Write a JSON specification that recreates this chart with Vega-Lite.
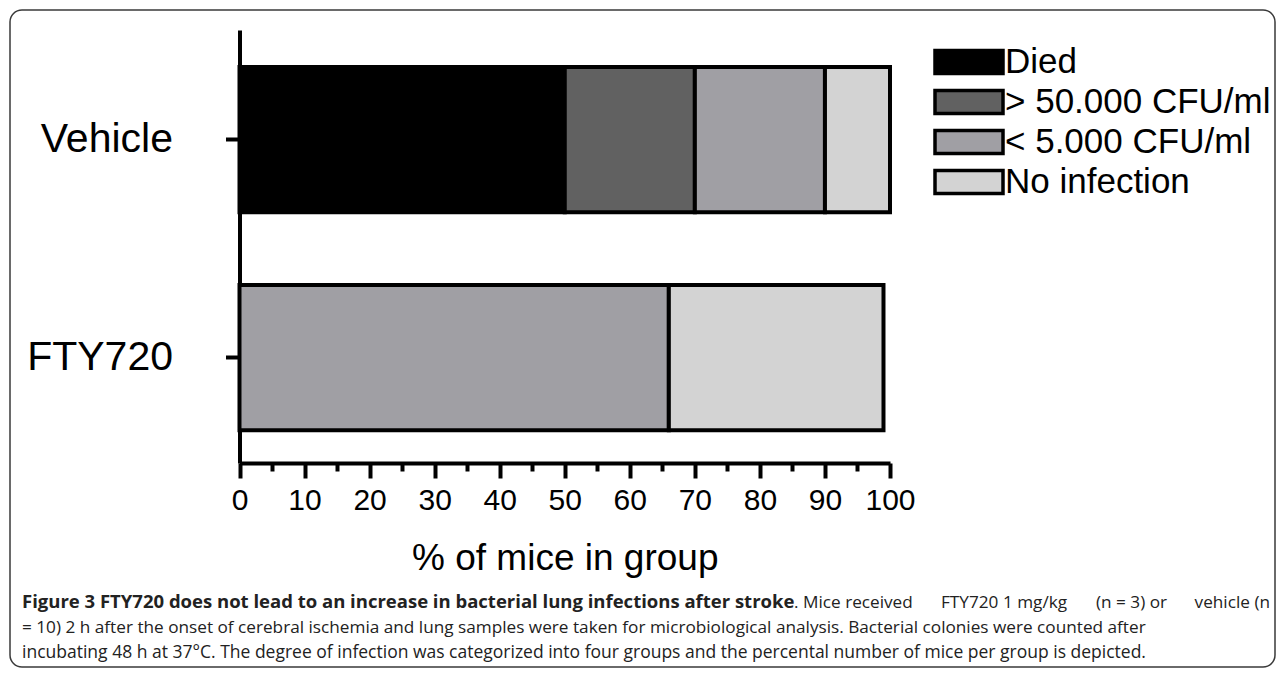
{
  "$schema": "https://vega.github.io/schema/vega-lite/v6.json",
  "width": 1265,
  "height": 657,
  "autosize": {"type": "none"},
  "padding": {"left": 10, "top": 10, "right": 9, "bottom": 10},
  "background": "white",
  "config": {
    "view": {"stroke": "#3a3a3a", "strokeWidth": 1.5, "cornerRadius": 12},
    "font": "Liberation Sans"
  },
  "layer": [
    {
      "data": {"values": [
        {"group": "Vehicle", "category": "Died", "percent": 50, "rank": 1},
        {"group": "Vehicle", "category": "> 50.000 CFU/ml", "percent": 20, "rank": 2},
        {"group": "Vehicle", "category": "< 5.000 CFU/ml", "percent": 20, "rank": 3},
        {"group": "Vehicle", "category": "No infection", "percent": 10, "rank": 4},
        {"group": "FTY720", "category": "< 5.000 CFU/ml", "percent": 66, "rank": 3},
        {"group": "FTY720", "category": "No infection", "percent": 33, "rank": 4}
      ]},
      "mark": {"type": "bar", "stroke": "black", "strokeWidth": 4, "strokeJoin": "miter"},
      "encoding": {
        "y": {
          "field": "group", "type": "nominal", "sort": ["Vehicle", "FTY720"],
          "scale": {"range": [20, 453], "paddingInner": 0.333, "paddingOuter": 0.16, "align": 0.53},
          "axis": {
            "title": null, "orient": "left", "offset": -229.5,
            "domainColor": "black", "domainWidth": 4,
            "tickColor": "black", "tickWidth": 4, "tickSize": 14,
            "labelFontSize": 41, "labelColor": "black", "labelPadding": 53, "labelFont": "Liberation Sans"
          }
        },
        "x": {
          "field": "percent", "type": "quantitative", "stack": "zero",
          "scale": {"domain": [0, 100], "range": [229.5, 880], "nice": false},
          "axis": {
            "title": "% of mice in group", "orient": "bottom", "offset": -204,
            "values": [0, 5, 10, 15, 20, 25, 30, 35, 40, 45, 50, 55, 60, 65, 70, 75, 80, 85, 90, 95, 100],
            "labelExpr": "datum.value % 10 === 0 ? datum.label : ''",
            "labelOverlap": false, "labelFlush": false,
            "grid": false,
            "domainColor": "black", "domainWidth": 4,
            "tickColor": "black", "tickWidth": 4,
            "tickSize": {"condition": {"test": "datum.value % 10 === 0", "value": 15}, "value": 8},
            "labelFontSize": 30, "labelColor": "black", "labelPadding": 7, "labelFont": "Liberation Sans",
            "titleFontSize": 37, "titleFontWeight": "normal", "titleColor": "black", "titlePadding": 25, "titleFont": "Liberation Sans"
          }
        },
        "color": {
          "field": "category", "type": "nominal",
          "sort": ["Died", "> 50.000 CFU/ml", "< 5.000 CFU/ml", "No infection"],
          "scale": {
            "domain": ["Died", "> 50.000 CFU/ml", "< 5.000 CFU/ml", "No infection"],
            "range": ["#000000", "#616161", "#a09fa4", "#d3d3d3"]
          },
          "legend": {
            "title": null, "orient": "none", "legendX": 940, "legendY": 33,
            "symbolType": "M-2,-0.68L2,-0.68L2,0.68L-2,0.68Z", "symbolSize": 1156,
            "symbolStrokeColor": "black", "symbolStrokeWidth": 3.5, "symbolOpacity": 1,
            "labelFontSize": 35, "labelColor": "black", "labelOffset": 17, "labelFont": "Liberation Sans",
            "rowPadding": 2, "padding": 0, "labelLimit": 400
          }
        },
        "order": {"field": "rank", "type": "quantitative"}
      }
    },
    {
      "data": {"values": [{"t": "Figure 3 FTY720 does not lead to an increase in bacterial lung infections after stroke"}]},
      "mark": {"type": "text", "align": "left", "baseline": "alphabetic", "font": "Open Sans", "fontSize": 18.5, "fontWeight": "bold", "color": "#222222"},
      "encoding": {"text": {"field": "t"}, "x": {"value": 12}, "y": {"value": 598}}
    },
    {
      "data": {"values": [{"t": ". Mice received"}]},
      "mark": {"type": "text", "align": "left", "baseline": "alphabetic", "font": "Open Sans", "fontSize": 17.2, "color": "#222222"},
      "encoding": {"text": {"field": "t"}, "x": {"value": 784}, "y": {"value": 598}}
    },
    {
      "data": {"values": [{"t": "FTY720 1 mg/kg"}]},
      "mark": {"type": "text", "align": "left", "baseline": "alphabetic", "font": "Open Sans", "fontSize": 17.2, "color": "#222222"},
      "encoding": {"text": {"field": "t"}, "x": {"value": 931}, "y": {"value": 598}}
    },
    {
      "data": {"values": [{"t": "(n = 3) or"}]},
      "mark": {"type": "text", "align": "left", "baseline": "alphabetic", "font": "Open Sans", "fontSize": 17.2, "color": "#222222"},
      "encoding": {"text": {"field": "t"}, "x": {"value": 1086}, "y": {"value": 598}}
    },
    {
      "data": {"values": [{"t": "vehicle (n"}]},
      "mark": {"type": "text", "align": "right", "baseline": "alphabetic", "font": "Open Sans", "fontSize": 17.2, "color": "#222222"},
      "encoding": {"text": {"field": "t"}, "x": {"value": 1260}, "y": {"value": 598}}
    },
    {
      "data": {"values": [{"t": "= 10) 2 h after the onset of cerebral ischemia and lung samples were taken for microbiological analysis. Bacterial colonies were counted after"}]},
      "mark": {"type": "text", "align": "left", "baseline": "alphabetic", "font": "Open Sans", "fontSize": 17.2, "color": "#222222"},
      "encoding": {"text": {"field": "t"}, "x": {"value": 12}, "y": {"value": 623}}
    },
    {
      "data": {"values": [{"t": "incubating 48 h at 37°C. The degree of infection was categorized into four groups and the percental number of mice per group is depicted."}]},
      "mark": {"type": "text", "align": "left", "baseline": "alphabetic", "font": "Open Sans", "fontSize": 17.5, "color": "#222222"},
      "encoding": {"text": {"field": "t"}, "x": {"value": 12}, "y": {"value": 648}}
    }
  ]
}
